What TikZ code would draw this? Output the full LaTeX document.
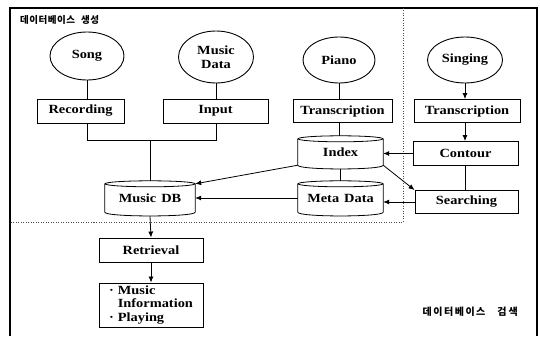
\documentclass[tikz,border=0pt]{standalone}
\usepackage{fontspec}
\setmainfont{Liberation Serif}[FakeStretch=1.15]
\newfontfamily\kor{Noto Sans CJK KR}
\usetikzlibrary{shapes.geometric,arrows.meta}
\newcommand\dbcyl[2]{%
  \draw[ln] (#1.north) ellipse [x radius=#2pt, y radius=3pt];
  \draw[ln] (#1.north west) -- (#1.south west)
     .. controls +(0,5) and +(0,5) .. (#1.south east) -- (#1.north east);}
\begin{document}
\begin{tikzpicture}[x=1pt,y=-1pt,
  lbl/.style={font=\fontsize{12.5}{13.5}\selectfont\bfseries},
  box/.style={draw, line width=0.9pt, lbl, inner sep=0pt},
  ell/.style={draw, ellipse, line width=0.9pt, lbl, inner sep=0pt},
  db/.style={lbl, inner sep=0pt},
  ln/.style={line width=0.8pt},
  arr/.style={ln, -{Latex[length=6pt,width=5pt]}},
  sep/.style={line width=0.5pt, dash pattern=on 1pt off 1.5pt, black!70},
  ttl/.style={font=\kor\bfseries\fontsize{9.5}{11}\selectfont, inner sep=0pt}
]
\useasboundingbox (0,0) rectangle (540,337);
% frame and separators
\draw[line width=1.5pt] (10,336) -- (10,8) -- (537,8) -- (537,336);
\draw[sep] (403,8) -- (403,222) -- (10,222);
% titles
\node[ttl, anchor=west] (t1) at (20,20) {데\hspace{0.5pt}이\hspace{0.5pt}터\hspace{0.5pt}베\hspace{0.5pt}이\hspace{0.5pt}스\hspace{6pt}생\hspace{0.5pt}성};
\node[ttl, anchor=east, font=\kor\bfseries\fontsize{10}{11}\selectfont] (t2) at (518,312) {데\hspace{1.5pt}이\hspace{1.5pt}터\hspace{1.5pt}베\hspace{1.5pt}이\hspace{1.5pt}스\hspace{12pt}검\hspace{2pt}색};
% sources
\node[ell, minimum width=74pt, minimum height=48pt] (song) at (87,56) {Song};
\node[ell, minimum width=75pt, minimum height=52pt, align=center] (mdata) at (216,57) {Music\\Data};
\node[ell, minimum width=72pt, minimum height=46pt] (piano) at (339,60) {Piano};
\node[ell, minimum width=75pt, minimum height=46pt] (singing) at (465,60) {Singing};
% boxes
\node[box, minimum width=87pt, minimum height=24pt] (rec) at (80.5,111) {Recording};
\node[box, minimum width=105pt, minimum height=24pt] (input) at (215.5,111) {Input};
\node[box, minimum width=99pt, minimum height=23pt] (trp) at (342.5,111) {Transcription};
\node[box, minimum width=106pt, minimum height=23pt] (trs) at (467,111) {Transcription};
\node[box, minimum width=105pt, minimum height=24pt] (contour) at (465.5,153.5) {Contour};
\node[box, minimum width=103pt, minimum height=23pt] (search) at (466.5,202) {Searching};
% databases
\node[db, minimum width=85pt, minimum height=26pt] (index) at (340.5,152) {Index};
\node[db, minimum width=85pt, minimum height=28pt] (meta) at (340.5,198) {Meta\hspace{5pt}Data};
\node[db, minimum width=90pt, minimum height=28pt] (mdb) at (150,198) {Music\hspace{5pt}DB};
\dbcyl{index}{42.5}
\dbcyl{meta}{42.5}
\dbcyl{mdb}{45}
% retrieval
\node[box, minimum width=104pt, minimum height=44pt] (out) at (151,305)
  {\begin{tabular}{@{}l@{\hspace{4pt}}l@{}}\textperiodcentered&Music\\&Information\\\textperiodcentered&Playing\end{tabular}};
\node[box, minimum width=104pt, minimum height=24pt] (retr) at (151,250) {Retrieval};
% connectors
\coordinate (jy) at (0,140);
\draw[ln] (song.south) -- (song.south |- rec.north);
\draw[ln] (mdata.south) -- (mdata.south |- input.north);
\draw[ln] (song.south |- rec.south) -- (song.south |- jy) -- (mdata.south |- jy) -- (mdata.south |- input.south);
\draw[ln] (mdb.north |- jy) -- ([yshift=3pt]mdb.north);
\draw[ln] (piano.south) -- (piano.south |- trp.north);
\draw[ln] (trp.south -| piano.south) -- ([yshift=3pt]index.north -| piano.south);
\draw[arr] (singing.south) -- (singing.south |- trs.north);
\draw[arr] (trs.south -| singing.south) -- (contour.north -| singing.south);
\draw[arr] (contour.west) -- (contour.west -| index.east);
\draw[ln] (contour.south) -- (contour.south |- search.north);
\draw[arr] (search.west) -- (search.west -| meta.east);
\draw[arr] (index.south east) -- (search.north west);
\draw[ln, line width=0.5pt] ([yshift=-3.5pt]index.south) -- ([yshift=3pt]meta.north);
\draw[arr] (index.south west) -- (mdb.north east);
\draw[arr] (meta.west) -- (meta.west -| mdb.east);
\draw[arr] ([yshift=-4pt]mdb.south) -- (retr.north);
\draw[arr] (retr.south) -- (out.north);
\end{tikzpicture}
\end{document}
